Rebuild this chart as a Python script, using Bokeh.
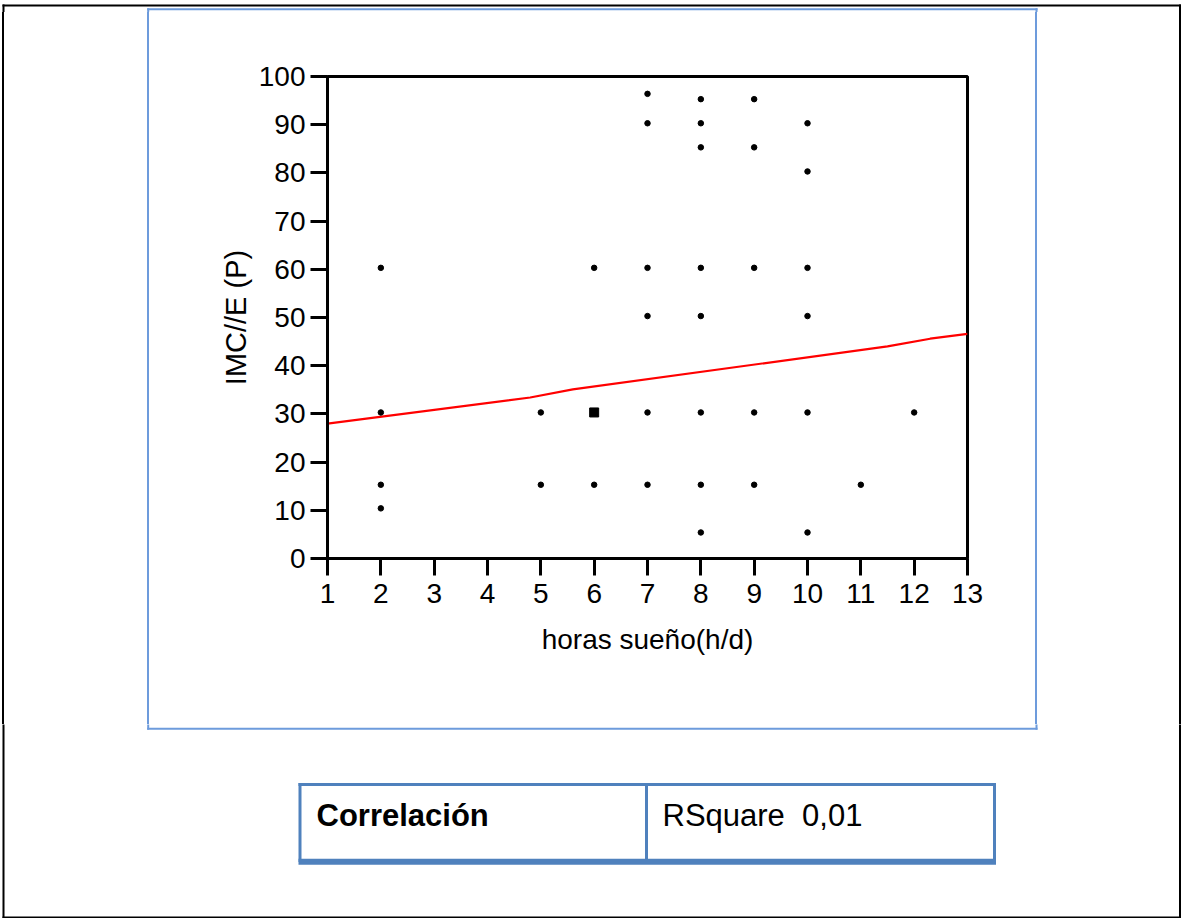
from bokeh.plotting import figure
from bokeh.layouts import column, row
from bokeh.models import Range1d, FixedTicker, Div
from bokeh.core.properties import value
from bokeh.embed import file_html
from bokeh.resources import INLINE

# ---- data ----
x_vals = [2, 2, 2, 2,
          5, 5,
          6, 6, 6,
          7, 7, 7, 7, 7, 7,
          8, 8, 8, 8, 8, 8, 8, 8,
          9, 9, 9, 9, 9,
          10, 10, 10, 10, 10, 10,
          11, 12]
y_vals = [60.3, 30.3, 15.3, 10.4,
          30.3, 15.3,
          60.3, 30.3, 15.3,
          96.4, 90.3, 60.3, 50.3, 30.3, 15.3,
          95.3, 90.3, 85.3, 60.3, 50.3, 30.3, 15.3, 5.4,
          95.3, 85.3, 60.3, 30.3, 15.3,
          90.3, 80.3, 60.3, 50.3, 30.3, 5.4,
          15.3, 30.3]
overlap_x = [6]
overlap_y = [30.3]
fit_x = [1, 4.8, 5.6, 11.5, 12.3, 13]
fit_y = [28.0, 33.4, 35.1, 44.0, 45.6, 46.6]
x_ticks = list(range(1, 14))
y_ticks = list(range(0, 101, 10))
x_title = "horas sueño(h/d)"
y_title = "IMC//E (P)"
table_left = "Correlación"
table_right = "RSquare  0,01"

FONT = "Liberation Sans"
BLACK_W = 2
BLUE = "#6d9bdc"
TBL = "#4f81bd"

# page geometry (pixels)
W, H = 1181, 918
TOP_H = 12          # top strip height
MID_B = 724         # bottom of middle row
LEFT_W = 151        # left strip width
RIGHT_X = 1032      # right strip start
OL, OT, OR, OB = 3, 5, 1179.5, 917        # outer border
BL, BT, BR, BB = 147.7, 8.7, 1036, 728.3  # blue box
FR_L, FR_T, FR_R, FR_B = 327, 76, 967, 558  # chart frame


def strip(x0, x1, y0, y1):
    f = figure(width=int(x1 - x0), height=int(y1 - y0), output_backend="svg",
               toolbar_location=None, x_axis_type=None, y_axis_type=None,
               x_range=Range1d(x0, x1), y_range=Range1d(y1, y0),
               min_border=0, min_border_left=0, min_border_right=0,
               min_border_top=0, min_border_bottom=0)
    f.outline_line_color = None
    f.grid.visible = False
    f.background_fill_color = "white"
    f.border_fill_color = "white"
    return f


def seg(f, x0, y0, x1, y1, color, width):
    f.segment(x0=[x0], y0=[y0], x1=[x1], y1=[y1], line_color=color,
              line_width=width, line_cap="square")


def vlines_div(x0, x1, lines):
    w, h = x1 - x0, MID_B - TOP_H
    inner = "".join(
        f'<div style="position:absolute;left:{lx - x0 - lw / 2:.1f}px;top:0;'
        f'width:{lw}px;height:{h}px;background:{col};"></div>'
        for lx, lw, col in lines)
    html = f'<div style="position:relative;width:{w}px;height:{h}px;margin:0;padding:0;">{inner}</div>'
    return Div(text=html, width=w, height=h, margin=0, styles={"padding": "0", "margin": "0"})


# top strip
top = strip(0, W, 0, TOP_H)
seg(top, OL, OT, OR, OT, "black", BLACK_W)
seg(top, OL, OT, OL, TOP_H + 2, "black", BLACK_W)
seg(top, OR, OT, OR, TOP_H + 2, "black", BLACK_W)
seg(top, BL, BT, BR, BT, BLUE, 2)
seg(top, BL, BT, BL, TOP_H + 2, BLUE, 2)
seg(top, BR, BT, BR, TOP_H + 2, BLUE, 2)

# left / right strips (plain HTML, so no frame alignment with the chart)
left = vlines_div(0, LEFT_W, [(OL, BLACK_W, "black"), (BL, 2, BLUE)])
right = vlines_div(RIGHT_X, W, [(BR, 2, BLUE), (OR, BLACK_W, "black")])

# bottom strip with the table
bot = strip(0, W, MID_B, H)
seg(bot, OL, MID_B - 2, OL, OB, "black", BLACK_W)
seg(bot, OR, MID_B - 2, OR, OB, "black", BLACK_W)
seg(bot, OL, OB, OR, OB, "black", BLACK_W)
seg(bot, BL, MID_B - 2, BL, BB, BLUE, 2)
seg(bot, BR, MID_B - 2, BR, BB, BLUE, 2)
seg(bot, BL, BB, BR, BB, BLUE, 2)
# table frame
seg(bot, 299.5, 784, 994, 784, TBL, 3)
seg(bot, 299.5, 784, 299.5, 860, TBL, 3)
seg(bot, 994, 784, 994, 860, TBL, 3)
bot.segment(x0=[646], y0=[784], x1=[646], y1=[860], line_color=TBL, line_width=3)
bot.quad(left=[298], right=[995.5], top=[858.3], bottom=[864.3], fill_color=TBL, line_color=None)
bot.text(x=[316], y=[815], text=[table_left], text_font=value(FONT), text_font_size="31px",
         text_font_style="bold", text_color="black", text_baseline="alphabetic", text_align="left")
# SVG collapses runs of spaces; keep the double gap visible with a no-break space
bot.text(x=[662], y=[815], text=[table_right.replace("  ", "\u00a0 ")], text_font=value(FONT),
         text_font_size="31px", text_color="black", text_baseline="alphabetic", text_align="left")

# ---- chart ----
p = figure(width=RIGHT_X - LEFT_W, height=MID_B - TOP_H, output_backend="svg",
           toolbar_location=None,
           x_range=Range1d(x_ticks[0], x_ticks[-1]), y_range=Range1d(y_ticks[0], y_ticks[-1]),
           min_border_left=FR_L - LEFT_W, min_border_right=RIGHT_X - FR_R,
           min_border_top=FR_T - TOP_H, min_border_bottom=MID_B - FR_B)
p.background_fill_color = "white"
p.border_fill_color = "white"
p.outline_line_color = "black"
p.outline_line_width = 3
p.grid.visible = False

for ax in (p.xaxis[0], p.yaxis[0]):
    ax.axis_line_width = 3
    ax.axis_line_color = "black"
    ax.major_tick_line_width = 3
    ax.major_tick_line_color = "black"
    ax.major_tick_in = 0
    ax.major_tick_out = 17
    ax.minor_tick_line_color = None
    ax.major_label_text_font = FONT
    ax.major_label_text_font_size = "28px"
    ax.major_label_text_color = "black"
    ax.axis_label_text_font = FONT
    ax.axis_label_text_font_size = "28px"
    ax.axis_label_text_font_style = "normal"
    ax.axis_label_text_color = "black"

p.xaxis[0].ticker = FixedTicker(ticks=x_ticks)
p.yaxis[0].ticker = FixedTicker(ticks=y_ticks)
p.xaxis[0].axis_label = x_title
p.yaxis[0].axis_label = y_title
p.yaxis[0].axis_label_text_font_size = "29px"
p.xaxis[0].major_label_standoff = 8
p.yaxis[0].major_label_standoff = 5
p.xaxis[0].axis_label_standoff = 18
p.yaxis[0].axis_label_standoff = 4

p.line(fit_x, fit_y, line_color="red", line_width=2.2)
p.scatter(x_vals, y_vals, marker="circle", size=5.5, fill_color="black", line_color="black")
p.scatter(overlap_x, overlap_y, marker="square", size=9, fill_color="black", line_color="black")

layout = column(top, row(left, p, right, spacing=0), bot, spacing=0)
open("out.html", "w").write(file_html(layout, INLINE))
